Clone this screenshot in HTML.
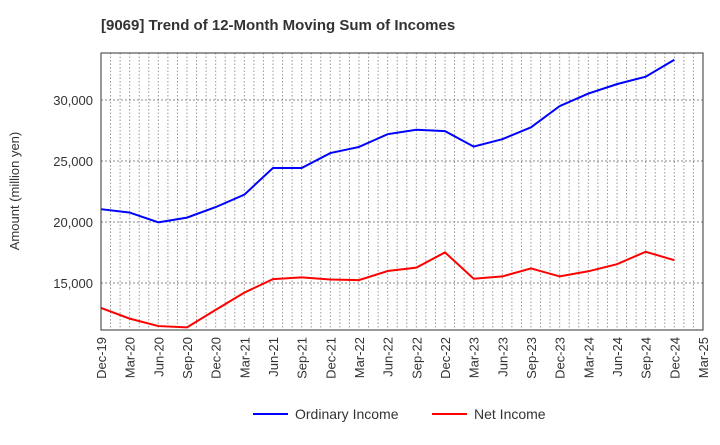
<!DOCTYPE html>
<html><head><meta charset="utf-8"><style>
body{margin:0;background:#fff;font-family:"Liberation Sans",Arial,sans-serif}
</style></head><body>
<svg id="chart" width="720" height="440" viewBox="0 0 720 440" xmlns="http://www.w3.org/2000/svg" font-family="Liberation Sans, Arial, sans-serif">
<text x="101" y="30" font-size="15" font-weight="bold" fill="#333">[9069]  Trend of 12-Month Moving Sum of Incomes</text>
<g id="grid"></g>
<g id="yticks"></g>
<g id="xticks"></g>
<g id="series"></g>
<rect x="101" y="53" width="602" height="277" fill="none" stroke="#333" stroke-width="1"/>
<text transform="translate(19,191) rotate(-90)" text-anchor="middle" font-size="13" fill="#333">Amount (million yen)</text>
<g>
<line x1="253" y1="414" x2="288" y2="414" stroke="#0000ff" stroke-width="2"/>
<text x="295" y="419" font-size="14" fill="#333">Ordinary Income</text>
<line x1="432" y1="414" x2="467" y2="414" stroke="#ff0000" stroke-width="2"/>
<text x="474" y="419" font-size="14" fill="#333">Net Income</text>
</g>
</svg>
<script>
const categories=["Dec-19","Mar-20","Jun-20","Sep-20","Dec-20","Mar-21","Jun-21","Sep-21","Dec-21","Mar-22","Jun-22","Sep-22","Dec-22","Mar-23","Jun-23","Sep-23","Dec-23","Mar-24","Jun-24","Sep-24","Dec-24","Mar-25"];
const ordinaryIncome=[21050,20775,19970,20360,21220,22240,24430,24430,25650,26150,27200,27560,27450,26180,26790,27760,29500,30530,31300,31910,33300];
const netIncome=[12960,12080,11470,11360,12800,14210,15320,15460,15290,15240,15980,16260,17510,15350,15540,16200,15540,15960,16540,17560,16870];
const yTicks=[15000,20000,25000,30000];
const yTickLabels=["15,000","20,000","25,000","30,000"];
const NS="http://www.w3.org/2000/svg";
const L=101,R=703,T=53,B=330;
const xs=i=>L+i*(R-L)/(categories.length-1);
const ys=v=>100+(30000-v)/5000*61;
function mk(tag,attrs,parent){const e=document.createElementNS(NS,tag);for(const k in attrs)e.setAttribute(k,attrs[k]);parent.appendChild(e);return e;}
const grid=document.getElementById('grid'),yt=document.getElementById('yticks'),xt=document.getElementById('xticks'),se=document.getElementById('series');
for(let m=0;m<=(categories.length-1)*3;m++){const x=L+m*(R-L)/((categories.length-1)*3);
const g=mk('line',{x1:x,x2:x,y1:T,y2:B,stroke:'#999','stroke-dasharray':'1.5,2','stroke-width':1},grid);

}
yTicks.forEach((v,i)=>{const y=ys(v);
const g=mk('line',{x1:L,x2:R,y1:y,y2:y,stroke:'#888','stroke-dasharray':'2,2','stroke-width':1},grid);


const t=mk('text',{x:L-8,y:y+5,'text-anchor':'end','font-size':13,fill:'#333'},yt);t.textContent=yTickLabels[i];

});
categories.forEach((c,i)=>{const x=xs(i);
const t=mk('text',{transform:`translate(${x+5},${B+7}) rotate(-90)`,'text-anchor':'end','font-size':13,fill:'#333'},xt);t.textContent=c;

});
function line(data,color,name){const p=mk('polyline',{points:data.map((v,i)=>xs(i)+','+ys(v)).join(' '),fill:'none',stroke:color,'stroke-width':2},se);

}
line(ordinaryIncome,'#0000ff','ordinary-income-line');
line(netIncome,'#ff0000','net-income-line');
</script>
</body></html>
